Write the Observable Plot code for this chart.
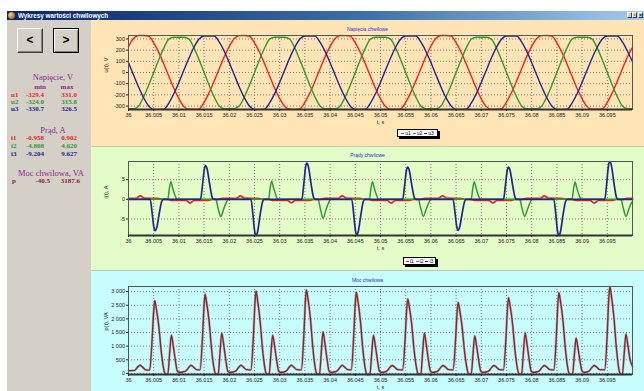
<!DOCTYPE html>
<html><head><meta charset="utf-8">
<script src="https://cdn.jsdelivr.net/npm/d3@7"></script>
<script src="https://cdn.jsdelivr.net/npm/@observablehq/plot@0.6"></script>
<style>
html,body{margin:0;padding:0;}
body{width:644px;height:391px;overflow:hidden;background:#fff;position:relative;font-family:"Liberation Sans",Arial,sans-serif;}
.abs{position:absolute;}
#titlebar{left:7px;top:11px;width:637px;height:9px;background:linear-gradient(to right,#0a246a 0%,#3a6ea5 55%,#a6caf0 100%);}
#titlebar .txt{left:11px;top:0;color:#fff;font:bold 6.3px "Liberation Sans",Arial,sans-serif;line-height:9px;white-space:nowrap;}
#titlebar .ico{left:1px;top:1px;width:7px;height:7px;border-radius:50%;background:radial-gradient(circle at 35% 35%,#f6d08a,#b06a20 70%,#5a3a10);}
.wbtn{top:1px;width:5px;height:6px;background:#d4d0c8;border:1px solid;border-color:#fff #404040 #404040 #fff;box-sizing:border-box;font:bold 5px Arial;line-height:4px;text-align:center;color:#000;}
#left{left:7px;top:20px;width:84px;height:371px;background:#d4d0c8;}
.btn{width:26px;height:25px;background:#d4d0c8;box-sizing:border-box;border:1px solid;border-color:#fff #404040 #404040 #fff;box-shadow:inset -1px -1px 0 #808080;font:bold 12px "Liberation Sans",Arial,sans-serif;text-align:center;line-height:22px;color:#000;}
.btn.sel{border:1px solid #000;box-shadow:inset 1px 1px 0 #fff, inset -1px -1px 0 #808080;}
.st{font:bold 7px "Liberation Serif","Times New Roman",serif;white-space:nowrap;line-height:7px;}
.st.h{font-weight:normal;font-size:8.5px;line-height:8px;}
.panel{left:91px;}
.ptitle{width:553px;left:0;text-align:center;font:5px "Liberation Sans",Arial,sans-serif;color:#2b2bd6;white-space:nowrap;}
.legend{background:#fff;border:1px solid #000;box-shadow:2px 2px 0 #000;box-sizing:border-box;font:5px "Liberation Sans",Arial,sans-serif;line-height:6px;white-space:nowrap;display:flex;align-items:center;justify-content:center;gap:2px;color:#000;}
.legend i{display:inline-block;width:3px;height:1px;margin-right:1px;vertical-align:middle;}
</style></head><body>
<div id="titlebar" class="abs"><div class="ico abs"></div><div class="txt abs">Wykresy wartości chwilowych</div>
<div class="wbtn abs" style="left:620px">_</div><div class="wbtn abs" style="left:625px">▫</div><div class="wbtn abs" style="left:631px">×</div></div>
<div id="left" class="abs"></div>
<div id="p1" class="abs panel" style="top:20px;height:126px;width:553px;background:#ffe4b5"></div>
<div id="p2" class="abs panel" style="top:146px;height:124px;width:553px;background:#e4fdc8;border-top:1px solid #c8c8b0;box-sizing:border-box"></div>
<div id="p3" class="abs panel" style="top:270px;height:121px;width:553px;background:#c8fdfd;border-top:1px solid #b8c8b8;box-sizing:border-box"></div>
<script>
// ---------- data ----------
const tMs = [0,1,2,3,4,5,6,7,8,9,10,11,12,13,14,15,16,17,18,19,20,21,22,23,24,25,26,27,28,29,30,31,32,33,34,35,36,37,38,39,40,41,42,43,44,45,46,47,48,49,50,51,52,53,54,55,56,57,58,59,60,61,62,63,64,65,66,67,68,69,70,71,72,73,74,75,76,77,78,79,80,81,82,83,84,85,86,87,88,89,90,91,92,93,94,95,96,97,98,99,100];
const u1 = [234,305,331,331,325,266,180,77,-33,-141,-234,-305,-329,-329,-325,-266,-180,-77,33,141,
 233,304,330,331,324,265,181,78,-32,-140,-233,-304,-328,-329.4,-324,-267,-181,-78,32,140,
 234,305,331,330,325,266,180,77,-33,-141,-234,-305,-329,-328,-325,-266,-180,-77,33,141,
 235,306,331,331,325,267,181,78,-32,-141,-235,-305,-328,-329,-324,-265,-179,-76,34,142,
 234,305,330,331,325,266,180,77,-33,-141,-234,-305,-329,-329,-325,-266,-180,-77,33,141,225];
const u2 = [-324,-324,-299,-218,-114,0,114,218,299,315,315.5,315,299,218,114,0,-114,-218,-299,-323,
 -324,-323,-298,-217,-113,1,115,219,299,315.8,315.5,315,298,217,113,-1,-115,-219,-299,-324,
 -324,-324,-299,-218,-114,0,114,218,299,315,315.5,315,299,218,114,0,-114,-218,-299,-323,
 -323,-324,-299,-218,-114,0,114,218,298,315,315,315,299,218,114,0,-114,-218,-299,-324,
 -324,-324,-299,-218,-114,0,114,218,299,315,315.5,315,299,218,114,0,-114,-218,-299,-323,-324];
const u3 = [88,-22,-130,-226,-299,-330,-330,-329,-273,-190,-88,22,130,226,299,326,326,326,273,190,
 87,-23,-131,-227,-300,-330.7,-330,-328,-272,-189,-87,23,131,227,300,326.5,326,325,272,189,
 88,-22,-130,-226,-299,-330,-330,-329,-273,-190,-88,22,130,226,299,326,326,326,273,190,
 89,-21,-129,-225,-298,-330,-330,-329,-274,-191,-89,21,129,225,298,326,326,326,274,191,
 88,-22,-130,-226,-299,-330,-330,-329,-273,-190,-88,22,130,226,299,326,326,326,273,190,96];

// currents: [time ms, value A]
const i1 = [[0,0.25],[1.5,0.28],[2.3,0.9],[3.1,0.3],[5.8,0.25],[6.8,0],
 [7.7,0],[8.7,-0.25],[11.4,-0.28],[12.2,-0.94],[13.0,-0.3],[15.7,-0.25],[16.7,0],
 [17.7,0],[18.7,0.25],[21.4,0.28],[22.2,0.88],[23.0,0.3],[25.7,0.25],[26.7,0],
 [27.8,0],[28.8,-0.25],[31.5,-0.28],[32.3,-0.92],[33.1,-0.3],[35.8,-0.25],[36.8,0],
 [37.9,0],[38.9,0.25],[41.6,0.28],[42.4,0.9],[43.2,0.3],[45.9,0.25],[46.9,0],
 [47.6,0],[48.6,-0.25],[51.3,-0.28],[52.1,-0.95],[52.9,-0.3],[55.6,-0.25],[56.6,0],
 [57.8,0],[58.8,0.25],[61.5,0.28],[62.3,0.902],[63.1,0.3],[65.8,0.25],[66.8,0],
 [67.8,0],[68.8,-0.25],[71.5,-0.28],[72.3,-0.93],[73.1,-0.3],[75.8,-0.25],[76.8,0],
 [78.0,0],[79.0,0.25],[81.7,0.28],[82.5,0.89],[83.3,0.3],[86.0,0.25],[87.0,0],
 [87.9,0],[88.9,-0.25],[91.6,-0.28],[92.4,-0.958],[93.2,-0.3],[95.9,-0.25],[96.9,0],
 [98.0,0],[99.0,0.25],[100,0.25]];
const i2 = [[0,0],
 [7.8,0],[8.1,2.7],[8.4,4.5],[8.8,2.7],[9.2,1.1],[9.6,0],
 [17.3,0],[17.8,-2.4],[18.3,-4.4],[18.9,-2.4],[19.3,-1.1],[19.8,0],
 [27.8,0],[28.1,2.8],[28.4,4.62],[28.8,2.8],[29.2,1.2],[29.6,0],
 [37.6,0],[38.1,-2.6],[38.6,-4.808],[39.2,-2.6],[39.6,-1.2],[40.1,0],
 [47.8,0],[48.1,2.7],[48.4,4.5],[48.8,2.7],[49.2,1.1],[49.6,0],
 [57.5,0],[58.0,-2.4],[58.5,-4.3],[59.1,-2.4],[59.5,-1.1],[60.0,0],
 [68.0,0],[68.3,2.7],[68.6,4.5],[69.0,2.7],[69.4,1.1],[69.8,0],
 [77.6,0],[78.1,-2.4],[78.6,-4.3],[79.2,-2.4],[79.6,-1.1],[80.1,0],
 [88.0,0],[88.3,2.6],[88.6,4.4],[89.0,2.6],[89.4,1.1],[89.8,0],
 [97.7,0],[98.2,-2.4],[98.7,-4.3],[99.3,-2.4],[99.7,-1.1],[100,-0.6]];
const i3 = [[0,0],
 [4.3,0],[4.7,-3.6],[5.05,-7.2],[5.3,-8.0],[5.6,-7.2],[6.1,-3.6],[6.6,-0.5],[6.9,0],
 [14.3,0],[14.7,3.9],[15.05,7.7],[15.3,8.6],[15.6,7.7],[16.1,3.9],[16.6,0.5],[16.9,0],
 [24.3,0],[24.7,-4.1],[25.05,-8.3],[25.3,-9.204],[25.6,-8.3],[26.1,-4.1],[26.6,-0.6],[26.9,0],
 [34.4,0],[34.8,4.1],[35.15,8.3],[35.4,9.2],[35.7,8.3],[36.2,4.1],[36.7,0.6],[37.0,0],
 [44.3,0],[44.7,-4.0],[45.05,-8.1],[45.3,-9.0],[45.6,-8.1],[46.1,-4.0],[46.6,-0.5],[46.9,0],
 [54.4,0],[54.8,3.7],[55.15,7.4],[55.4,8.2],[55.7,7.4],[56.2,3.7],[56.7,0.5],[57.0,0],
 [64.4,0],[64.8,-3.6],[65.15,-7.1],[65.4,-7.9],[65.7,-7.1],[66.2,-3.6],[66.7,-0.5],[67.0,0],
 [74.4,0],[74.8,3.7],[75.15,7.4],[75.4,8.2],[75.7,7.4],[76.2,3.7],[76.7,0.5],[77.0,0],
 [84.4,0],[84.8,-4.1],[85.15,-8.3],[85.4,-9.2],[85.7,-8.3],[86.2,-4.1],[86.7,-0.6],[87.0,0],
 [94.5,0],[94.9,4.3],[95.25,8.7],[95.5,9.627],[95.8,8.7],[96.3,4.3],[96.8,0.6],[97.1,0],
 [100,0]];
// instantaneous power: [time ms, value VA]
const p = [[0,100],[1.2,110],[1.8,230],[2.3,300],[2.8,230],[3.4,130],[4.2,120],
 [4.7,1300],[5.0,2300],[5.2,2663],[5.5,2400],[6.0,1750],[6.5,800],[7.0,150],[7.3,-30],
 [7.8,-30],[8.15,700],[8.5,1404],[8.85,1050],[9.3,480],[9.7,80],[10.0,40],[10.9,60],
 [11.5,110],[12.0,230],[12.4,300],[12.9,230],[13.5,140],[14.2,130],
 [14.7,1400],[15.0,2500],[15.2,2903],[15.5,2600],[16.0,1900],[16.5,850],[17.0,150],[17.3,-30],
 [17.8,-30],[18.15,750],[18.5,1488],[18.85,1100],[19.3,500],[19.7,80],[20.0,40],[20.9,60],
 [21.4,110],[21.9,230],[22.3,300],[22.8,230],[23.4,140],[24.3,130],
 [24.8,1450],[25.1,2600],[25.3,3025],[25.6,2700],[26.1,1950],[26.6,880],[27.1,150],[27.4,-30],
 [27.9,-30],[28.25,700],[28.6,1404],[28.95,1050],[29.4,480],[29.8,80],[30.1,40],[31.0,60],
 [31.4,110],[31.9,230],[32.3,300],[32.8,230],[33.4,140],[34.3,130],
 [34.8,1450],[35.1,2650],[35.3,3062],[35.6,2750],[36.1,2000],[36.6,900],[37.1,150],[37.4,-30],
 [37.9,-30],[38.25,760],[38.6,1525],[38.95,1130],[39.4,520],[39.8,80],[40.1,40],[41.0,60],
 [41.5,110],[42.0,230],[42.4,300],[42.9,230],[43.5,140],[44.2,130],
 [44.7,1430],[45.0,2580],[45.2,2980],[45.5,2680],[46.0,1950],[46.5,880],[47.0,150],[47.3,-40.5],
 [47.9,-30],[48.25,700],[48.6,1404],[48.95,1050],[49.4,480],[49.8,80],[50.1,40],[51.0,60],
 [51.4,110],[51.9,230],[52.3,290],[52.8,230],[53.4,140],[54.4,130],
 [54.9,1320],[55.2,2370],[55.4,2735],[55.7,2460],[56.2,1790],[56.7,800],[57.2,150],[57.5,-30],
 [58.0,-30],[58.35,750],[58.7,1488],[59.05,1100],[59.5,500],[59.9,80],[60.2,40],[61.1,60],
 [61.5,110],[62.0,230],[62.4,290],[62.9,230],[63.5,140],[64.4,130],
 [64.9,1250],[65.2,2250],[65.4,2600],[65.7,2340],[66.2,1700],[66.7,760],[67.2,150],[67.5,-30],
 [68.0,-30],[68.35,690],[68.7,1380],[69.05,1020],[69.5,460],[69.9,80],[70.2,40],[71.1,60],
 [71.6,110],[72.1,230],[72.5,290],[73.0,230],[73.6,140],[74.4,130],
 [74.9,1330],[75.2,2400],[75.4,2780],[75.7,2500],[76.2,1820],[76.7,820],[77.2,150],[77.5,-30],
 [78.0,-30],[78.35,750],[78.7,1488],[79.05,1100],[79.5,500],[79.9,80],[80.2,40],[81.1,60],
 [81.6,110],[82.1,230],[82.5,290],[83.0,230],[83.6,140],[84.4,130],
 [84.9,1420],[85.2,2560],[85.4,2960],[85.7,2660],[86.2,1940],[86.7,870],[87.2,150],[87.5,-30],
 [88.1,-30],[88.45,650],[88.8,1300],[89.15,960],[89.6,440],[90.0,80],[90.3,40],[91.1,60],
 [91.5,110],[92.0,230],[92.4,290],[92.9,230],[93.5,140],[94.5,130],
 [95.0,1520],[95.3,2750],[95.5,3187.6],[95.8,2860],[96.3,2080],[96.8,940],[97.3,150],[97.6,-30],
 [98.0,-30],[98.35,720],[98.7,1450],[99.05,1070],[99.5,520],[100,260]];

// ticks
const xTicks = [0,5,10,15,20,25,30,35,40,45,50,55,60,65,70,75,80,85,90,95];
const xTickLabels = ["36","36.005","36.01","36.015","36.02","36.025","36.03","36.035","36.04","36.045","36.05","36.055","36.06","36.065","36.07","36.075","36.08","36.085","36.09","36.095"];
const uTicks = [-300,-200,-100,0,100,200,300];
const iTicks = [-5,0,5];
const pTicks = [0,500,1000,1500,2000,2500,3000];
const pTickLabels = ["0","500","1 000","1 500","2 000","2 500","3 000"];

// stats (left panel)
const uNames = ["u1","u2","u3"], uMin = [-329.4,-324.0,-330.7], uMax = [331.0,315.8,326.5];
const iNames = ["i1","i2","i3"], iMin = [-0.958,-4.808,-9.204], iMax = [0.902,4.620,9.627];
const pNames = ["p"], pMin = [-40.5], pMax = [3187.6];
const phaseColors = ["#ee2222","#2f9a2f","#23238f"];
const powerColor = "#7e2a30";

// ---------- left panel ----------
const left = document.getElementById("left");
function txt(str, x, y, color, align, head) {
  const d = document.createElement("div");
  d.className = "st abs" + (head ? " h" : "");
  d.textContent = str;
  d.style.color = color;
  d.style.top = (y - 20 - (head ? 4 : 3.5)) + "px";
  if (align === "right") { d.style.right = (84 - (x - 7)) + "px"; }
  else if (align === "center") { d.style.left = (x - 7 - 50) + "px"; d.style.width = "100px"; d.style.textAlign = "center"; }
  else { d.style.left = (x - 7) + "px"; }
  left.appendChild(d);
}
const b1 = document.createElement("div"); b1.className = "btn abs"; b1.textContent = "<"; b1.style.left = "10px"; b1.style.top = "8px"; left.appendChild(b1);
const b2 = document.createElement("div"); b2.className = "btn abs sel"; b2.textContent = ">"; b2.style.left = "46px"; b2.style.top = "8px"; left.appendChild(b2);
const purple = "#8a2a8a";
const fmt = (v, d) => v.toFixed(d);
txt("Napięcie, V", 53, 77, purple, "center", true);
txt("min", 40, 87, purple, "center");
txt("max", 67, 87, purple, "center");
uNames.forEach((n, k) => { const y = 95 + k * 7; txt(n, 11, y, phaseColors[k]); txt(fmt(uMin[k],1), 44, y, phaseColors[k], "right"); txt(fmt(uMax[k],1), 77, y, phaseColors[k], "right"); });
txt("Prąd, A", 53, 130, purple, "center", true);
iNames.forEach((n, k) => { const y = 138 + k * 8; txt(n, 11, y, phaseColors[k]); txt(fmt(iMin[k],3), 44, y, phaseColors[k], "right"); txt(fmt(iMax[k],3), 77, y, phaseColors[k], "right"); });
txt("Moc chwilowa, VA", 51, 173, purple, "center", true);
pNames.forEach((n, k) => { const y = 181; txt(n, 12, y, powerColor); txt(fmt(pMin[k],1), 50, y, powerColor, "right"); txt(fmt(pMax[k],1), 80, y, powerColor, "right"); });

// ---------- charts ----------
const toRows = (vals) => tMs.map((t, k) => ({t, v: vals[k]}));
const pairRows = (arr) => arr.map(([t, v]) => ({t, v}));

function chart({height, mt, mb, yDomain, yTicks, yFmt, yLabel, lines, yLabelDx}) {
  return Plot.plot({
    width: 553, height, marginLeft: 37, marginRight: 12, marginTop: mt, marginBottom: mb,
    x: {domain: [0, 100]},
    y: {domain: yDomain},
    style: {background: "transparent", fontFamily: "Liberation Sans, Arial, sans-serif", fontSize: "5.5px", color: "#222", overflow: "visible"},
    marks: [
      Plot.gridX(xTicks, {stroke: "#7a7a7a", strokeOpacity: 1, strokeDasharray: "1,2"}),
      Plot.gridY(yTicks, {stroke: "#7a7a7a", strokeOpacity: 1, strokeDasharray: "1,2"}),
      ...lines.flatMap(l => [
        ...(l.halo ? [Plot.line(l.data, {x: "t", y: "v", stroke: l.halo, strokeWidth: (l.w || 1.4) + 1.2, strokeOpacity: 0.55, curve: "monotone-x"})] : []),
        Plot.line(l.data, {x: "t", y: "v", stroke: l.color, strokeWidth: l.w || 1.4, curve: "monotone-x"})
      ]),
      Plot.frame({stroke: "#555"}),
      Plot.ruleY([yDomain[0]], {stroke: "#333", strokeWidth: 2}),
      Plot.axisX(xTicks, {tickFormat: d => xTickLabels[xTicks.indexOf(d)], tickSize: 2, tickPadding: 2, fontSize: 5.5, label: null}),
      Plot.axisY(yTicks, {tickFormat: yFmt, tickSize: 2, tickPadding: 1.5, fontSize: 5.5, label: null}),
      Plot.text(["t, s"], {text: d => d, frameAnchor: "bottom", dy: 14, fontSize: 5.5}),
      Plot.text([yLabel], {text: d => d, frameAnchor: "left", dx: yLabelDx, rotate: -90, fontSize: 5.5})
    ]
  });
}

function panel(id, title, titleTop, svg, legendItems, legendBox) {
  const el = document.getElementById(id);
  el.appendChild(svg);
  svg.style.position = "absolute"; svg.style.left = "0"; svg.style.top = "0";
  const t = document.createElement("div"); t.className = "ptitle abs"; t.textContent = title; t.style.top = titleTop + "px"; el.appendChild(t);
  if (legendItems) {
    const lg = document.createElement("div"); lg.className = "legend abs";
    Object.assign(lg.style, legendBox);
    legendItems.forEach((name, k) => { const s = document.createElement("span"); const i = document.createElement("i"); i.style.background = phaseColors[k]; s.appendChild(i); s.appendChild(document.createTextNode(name)); lg.appendChild(s); });
    el.appendChild(lg);
  }
}

const uDom = [Math.min(...uMin), Math.max(...uMax)];
const iDom = [Math.min(...iMin), Math.max(...iMax)];
const pDom = [pMin[0], pMax[0]];

panel("p1", "Napięcia chwilowe", 6,
  chart({height: 126, mt: 15, mb: 37, yDomain: uDom, yTicks: uTicks, yFmt: d => String(d), yLabel: "u(t), V", yLabelDx: -22,
    lines: [{data: toRows(u1), color: phaseColors[0]}, {data: toRows(u2), color: phaseColors[1]}, {data: toRows(u3), color: phaseColors[2]}]}),
  uNames, {left: "306px", top: "109px", width: "41px", height: "8px"});

panel("p2", "Prądy chwilowe", 5,
  chart({height: 124, mt: 14, mb: 36, yDomain: iDom, yTicks: iTicks, yFmt: d => String(d), yLabel: "i(t), A", yLabelDx: -22,
    lines: [{data: pairRows(i1), color: phaseColors[0], w: 1.7}, {data: pairRows(i2), color: phaseColors[1], w: 1.5}, {data: pairRows(i3), color: phaseColors[2], w: 1.7}]}),
  iNames, {left: "312px", top: "110px", width: "33px", height: "8px"});

panel("p3", "Moc chwilowa", 6,
  chart({height: 121, mt: 15, mb: 18, yDomain: pDom, yTicks: pTicks, yFmt: d => pTickLabels[pTicks.indexOf(d)], yLabel: "p(t), VA", yLabelDx: -22,
    lines: [{data: pairRows(p), color: powerColor, w: 1.4, halo: "#c98a8a"}]}),
  null, null);
</script>
</body></html>
